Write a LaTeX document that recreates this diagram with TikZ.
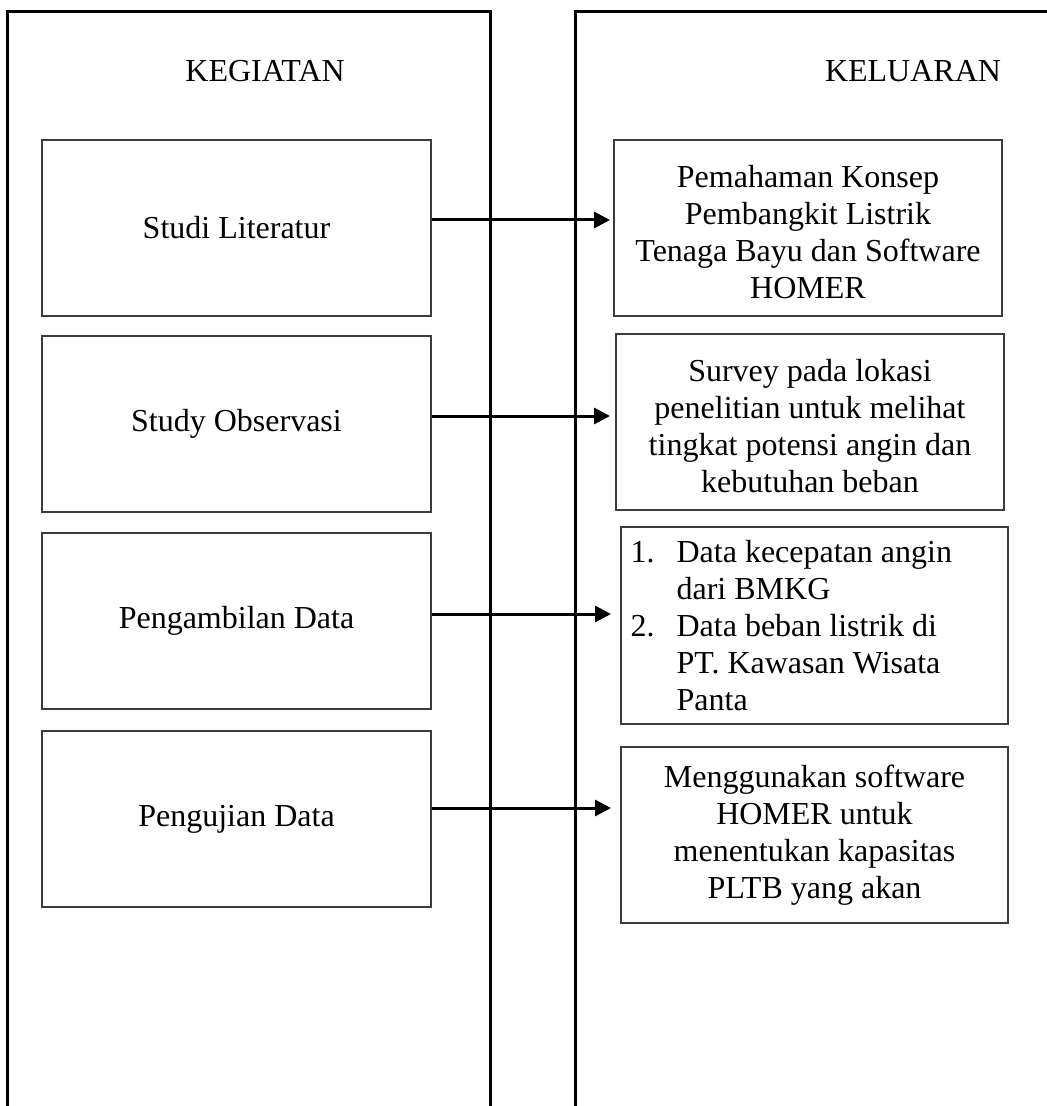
\documentclass[tikz,border=0pt]{standalone}
\usepackage{fontspec}
\setmainfont{Liberation Serif}
\definecolor{boxgray}{HTML}{3C3C3C}
\usetikzlibrary{arrows.meta}

\begin{document}
\begin{tikzpicture}[x=0.5pt, y=-0.5pt,
    colline/.style={line width=1.5pt, black},
    kegbox/.style={draw=boxgray, line width=0.8pt, minimum width=194.5pt,
      minimum height=88pt, inner sep=0pt, font=\fontsize{16}{18.75}\selectfont},
    outbox/.style={kegbox, minimum width=194pt},
    boxtext/.style={inner sep=0pt, font=\fontsize{16}{18.5}\selectfont},
    header/.style={anchor=base, inner sep=0pt, font=\fontsize{16}{18.75}\selectfont},
    flow/.style={-{Triangle[length=8pt,width=8pt]}, line width=1.5pt}]
  \useasboundingbox (0,0) rectangle (1046,1106);
  % column frames (open at the bottom, right one runs off the page)
  \draw[colline] (7,1112) -- (7,12) -- (490,12) -- (490,1112);
  \draw[colline] (575,1112) -- (575,12) -- (1052,12);
  % column headers
  \node[header] (keg) at (265,82) {KEGIATAN};
  \node[header] (kel) at (913,82) {KELUARAN};
  % activities
  \node[kegbox] (lit) at (236.5,228) {Studi Literatur};
  \node[kegbox] (obs) at (236.5,424) {Study Observasi};
  \node[kegbox] (amb) at (236.5,621) {Pengambilan Data};
  \node[kegbox] (uji) at (236.5,819) {Pengujian Data};
  % outputs
  \node[outbox] (out1) at (808,228) {};
  \node[boxtext, align=center] (out1txt) at ([yshift=-2pt]out1.center)
        {Pemahaman Konsep\\Pembangkit Listrik\\Tenaga Bayu dan Software\\HOMER};
  \node[outbox] (out2) at (810,422) {};
  \node[boxtext, align=center] (out2txt) at ([yshift=-2pt]out2.center)
        {Survey pada lokasi\\penelitian untuk melihat\\tingkat potensi angin dan\\kebutuhan beban};
  \node[outbox, minimum width=193.5pt, minimum height=98.5pt] (out3) at (814.5,625.5) {};
  \node[boxtext, align=left, anchor=north west] (out3txt) at ([xshift=5pt,yshift=-7pt]out3.north west)
        {\makebox[23pt][l]{1.}Data kecepatan angin\\
         \hspace*{23pt}dari BMKG\\
         \makebox[23pt][l]{2.}Data beban listrik di\\
         \hspace*{23pt}PT. Kawasan Wisata\\
         \hspace*{23pt}Panta};
  \node[outbox, minimum width=193.5pt] (out4) at (814.5,835) {};
  \node[boxtext, align=center, anchor=north] (out4txt) at ([yshift=-9pt]out4.north)
        {Menggunakan software\\HOMER untuk\\menentukan kapasitas\\PLTB yang akan};
  % arrow tips
  \coordinate (tip1) at (610,220);
  \coordinate (tip2) at (610,416);
  \coordinate (tip3) at (611,614);
  \coordinate (tip4) at (611,808);
  % connectors
  \draw[flow] (lit.east |- tip1) -- (tip1);
  \draw[flow] (obs.east |- tip2) -- (tip2);
  \draw[flow] (amb.east |- tip3) -- (tip3);
  \draw[flow] (uji.east |- tip4) -- (tip4);
\end{tikzpicture}
\end{document}
